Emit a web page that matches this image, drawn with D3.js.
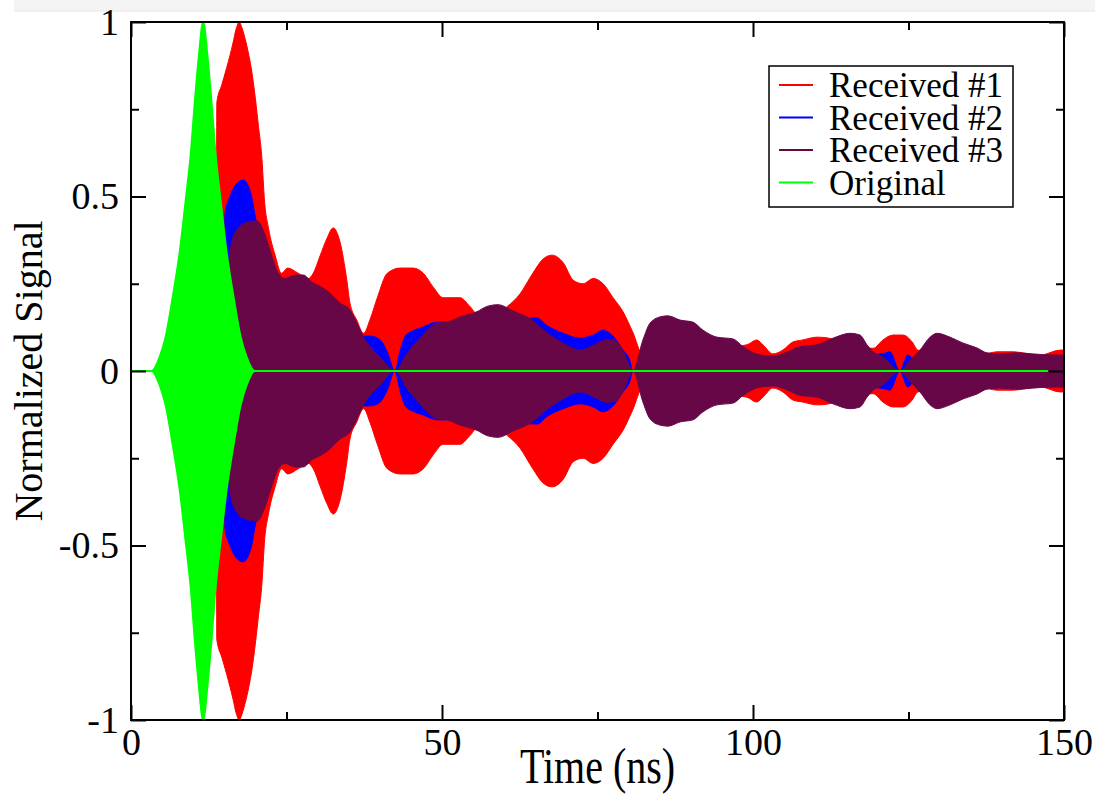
<!DOCTYPE html>
<html><head><meta charset="utf-8">
<script src="https://cdn.jsdelivr.net/npm/d3@7"></script>
<style>body{margin:0;background:#fff;} svg{display:block;}</style>
</head><body>
<svg id="c" width="1099" height="799"></svg>
<script>
const seriesNames = ["Received #1","Received #2","Received #3","Original"];
const seriesColors = ["#ff0000","#0000ff","#670748","#00ff00"];
const xTicks = [0,50,100,150];
const xMinor = [25,75,125];
const yTicks = [-1,-0.5,0,0.5,1];
const yMinor = [-0.75,-0.25,0.25,0.75];
const xTitle = "Time (ns)";
const yTitle = "Normalized Signal";

// envelope amplitude [time (ns), |signal|]
const received1 = [[0,0],[13.7,0],[13.8,0.77],[14.6,0.82],[15.4,0.87],[16.4,0.94],[16.9,0.98],[17.4,1.0],[17.9,0.98],[18.3,0.955],[19.0,0.9],[19.4,0.86],[20.0,0.78],[20.5,0.70],[21.0,0.62],[21.5,0.48],[22.1,0.41],[23.2,0.33],[24.2,0.28],[25.2,0.295],[26.9,0.28],[28.5,0.265],[29.3,0.28],[30.4,0.33],[31.5,0.38],[32.5,0.41],[33.6,0.37],[34.7,0.26],[35.2,0.195],[36.3,0.146],[37.4,0.108],[38.4,0.146],[39.6,0.21],[41.2,0.28],[43.3,0.295],[45.3,0.295],[47.0,0.28],[48.6,0.24],[50.2,0.21],[52.9,0.21],[54.5,0.185],[55.6,0.165],[57.7,0.17],[59.3,0.17],[60.5,0.185],[62.5,0.22],[64.6,0.28],[66.2,0.32],[67.7,0.332],[69.5,0.31],[71.1,0.26],[72.7,0.25],[74.3,0.265],[75.9,0.25],[77.5,0.21],[79.1,0.17],[80.7,0.11],[82.2,0.05],[85.0,0.09],[91.5,0.08],[96.3,0.07],[99.0,0.075],[100.6,0.089],[101.6,0.075],[103.2,0.049],[104.8,0.06],[106.4,0.083],[108.0,0.089],[110.3,0.097],[111.9,0.095],[114.0,0.085],[117.2,0.07],[119.3,0.065],[120.9,0.089],[122.5,0.103],[124.1,0.103],[125.6,0.083],[126.5,0.06],[131.7,0.05],[136.5,0.045],[139.2,0.055],[141.8,0.055],[146.1,0.045],[149.4,0.06],[150,0.06]];
const received2 = [[0,0],[15.0,0],[15.1,0.45],[15.9,0.50],[16.9,0.535],[18.05,0.547],[19.4,0.50],[19.9,0.45],[21.5,0.35],[24.0,0.22],[27.2,0.18],[32.0,0.14],[35.2,0.12],[37.3,0.10],[38.4,0.10],[40.0,0.09],[41.3,0.05],[42.4,0.0],[43.3,0.06],[44.1,0.10],[45.3,0.115],[47.0,0.126],[48.4,0.137],[49.2,0.14],[52.9,0.14],[59.3,0.15],[62.5,0.15],[65.3,0.152],[66.9,0.13],[69.5,0.108],[72.2,0.094],[74.3,0.103],[75.9,0.117],[77.5,0.1],[79.1,0.06],[80.2,0.03],[80.7,0.0],[83.4,0.05],[91.5,0.05],[100,0.035],[107.6,0.03],[117.2,0.045],[120.9,0.05],[122.0,0.055],[123.6,0.0],[124.9,0.046],[126.0,0.03],[131.7,0.03],[150,0.02]];
const received3 = [[0,0],[15.55,0],[15.64,0.30],[16.2,0.37],[17.25,0.41],[18.5,0.425],[20.26,0.43],[21.54,0.39],[22.62,0.33],[23.68,0.28],[24.76,0.265],[26.37,0.275],[27.7,0.275],[29.05,0.255],[30.66,0.24],[31.51,0.23],[33.6,0.195],[35.21,0.175],[36.33,0.137],[37.3,0.10],[38.42,0.07],[40.03,0.04],[42.44,0.0],[44.37,0.05],[46.46,0.094],[49.2,0.137],[50.8,0.14],[52.89,0.155],[55.63,0.17],[57.23,0.185],[59.0,0.19],[61.41,0.172],[64.15,0.15],[66.88,0.11],[69.45,0.08],[72.19,0.06],[74.5,0.075],[76.5,0.09],[78.0,0.085],[79.3,0.05],[80.71,0.0],[82.32,0.09],[83.44,0.137],[85.05,0.155],[86.33,0.158],[88.26,0.146],[90.35,0.14],[91.96,0.117],[94.21,0.097],[96.78,0.092],[98.39,0.07],[101.13,0.046],[103.22,0.043],[105.47,0.054],[107.56,0.07],[110.29,0.075],[112.86,0.094],[115.6,0.108],[117.2,0.103],[118.33,0.075],[119.29,0.055],[120.9,0.04],[123.63,0.0],[125.24,0.03],[126.85,0.06],[128.46,0.097],[129.58,0.108],[131.67,0.097],[133.76,0.08],[136.01,0.066],[137.62,0.052],[139.71,0.049],[142.44,0.052],[145.02,0.049],[147.75,0.046],[150,0.046]];
const original = [[0,0],[3.3,0],[4.6,0.04],[5.6,0.1],[6.6,0.2],[7.9,0.35],[8.8,0.49],[9.6,0.62],[10.3,0.78],[10.9,0.9],[11.6,1.0],[12.3,0.9],[12.9,0.78],[13.6,0.62],[14.4,0.49],[15.3,0.35],[16.6,0.2],[17.6,0.1],[18.6,0.04],[19.9,0],[147.3,0]];

const allSeries = [received1, received2, received3, original];

const FONT = "'Liberation Serif','Times New Roman',serif";
const svg = d3.select("#c");

// light band at top of the screenshot
svg.append("rect").attr("x",14).attr("y",0).attr("width",1081).attr("height",11).attr("fill","#f4f4f4");
svg.append("line").attr("x1",14).attr("x2",1095).attr("y1",11).attr("y2",11).attr("stroke","#e6e6e6").attr("stroke-width",1);

const M = {l:131, r:1064, t:22, b:720};
const x = d3.scaleLinear().domain([0,150]).range([M.l, M.r]);
const y = d3.scaleLinear().domain([-1,1]).range([M.b, M.t]);

const plot = svg.append("g");
plot.append("clipPath").attr("id","clip").append("rect")
  .attr("x",M.l).attr("y",M.t-2).attr("width",M.r-M.l).attr("height",M.b-M.t+4);
const layer = plot.append("g").attr("clip-path","url(#clip)");

const area = d3.area().curve(d3.curveMonotoneX)
  .x(d => x(d[0])).y0(d => y(-d[1])).y1(d => y(d[1]));
allSeries.forEach((s, i) => {
  layer.append("path").datum(s)
    .attr("d", area)
    .attr("fill", seriesColors[i])
    .attr("stroke", seriesColors[i])
    .attr("stroke-width", i === 3 ? 2 : 1)
    .attr("stroke-linejoin","round");
});

// axes
function styleAxis(g){
  g.select(".domain").remove();
  g.selectAll(".tick line").attr("stroke","#000").attr("stroke-width",2);
  g.selectAll("text").attr("font-family",FONT).attr("font-size",38).attr("fill","#000");
}
const fmt = d => String(d);
svg.append("g").attr("transform",`translate(0,${M.b})`)
  .call(d3.axisBottom(x).tickValues(xTicks).tickSize(-15).tickPadding(8).tickFormat(fmt)).call(styleAxis);
svg.append("g").attr("transform",`translate(0,${M.b})`)
  .call(d3.axisBottom(x).tickValues(xMinor).tickSize(-8).tickFormat("")).call(styleAxis);
svg.append("g").attr("transform",`translate(0,${M.t})`)
  .call(d3.axisTop(x).tickValues(xTicks).tickSize(-15).tickFormat("")).call(styleAxis);
svg.append("g").attr("transform",`translate(0,${M.t})`)
  .call(d3.axisTop(x).tickValues(xMinor).tickSize(-8).tickFormat("")).call(styleAxis);
svg.append("g").attr("transform",`translate(${M.l},0)`)
  .call(d3.axisLeft(y).tickValues(yTicks).tickSize(-15).tickPadding(12).tickFormat(fmt)).call(styleAxis);
svg.append("g").attr("transform",`translate(${M.l},0)`)
  .call(d3.axisLeft(y).tickValues(yMinor).tickSize(-8).tickFormat("")).call(styleAxis);
svg.append("g").attr("transform",`translate(${M.r},0)`)
  .call(d3.axisRight(y).tickValues(yTicks).tickSize(-15).tickFormat("")).call(styleAxis);
svg.append("g").attr("transform",`translate(${M.r},0)`)
  .call(d3.axisRight(y).tickValues(yMinor).tickSize(-8).tickFormat("")).call(styleAxis);

svg.append("rect").attr("x",M.l).attr("y",M.t).attr("width",M.r-M.l).attr("height",M.b-M.t)
  .attr("fill","none").attr("stroke","#000").attr("stroke-width",2);

// titles
svg.append("text").attr("transform",`translate(${(M.l+M.r)/2},783) scale(1,1.25)`).attr("text-anchor","middle")
  .attr("font-family",FONT).attr("font-size",40).text(xTitle);
svg.append("text").attr("transform",`translate(42,${(M.t+M.b)/2}) rotate(-90)`).attr("text-anchor","middle")
  .attr("font-family",FONT).attr("font-size",40).text(yTitle);

// legend
const lg = svg.append("g");
lg.append("rect").attr("x",769).attr("y",66).attr("width",244).attr("height",141)
  .attr("fill","#fff").attr("stroke","#000").attr("stroke-width",1.5);
seriesNames.forEach((n,i) => {
  const yy = 85 + i*32.5;
  lg.append("line").attr("x1",779).attr("x2",813).attr("y1",yy).attr("y2",yy)
    .attr("stroke",seriesColors[i]).attr("stroke-width",2);
  lg.append("text").attr("x",829).attr("y",yy+12).attr("font-family",FONT).attr("font-size",35).text(n);
});
</script>
</body></html>
